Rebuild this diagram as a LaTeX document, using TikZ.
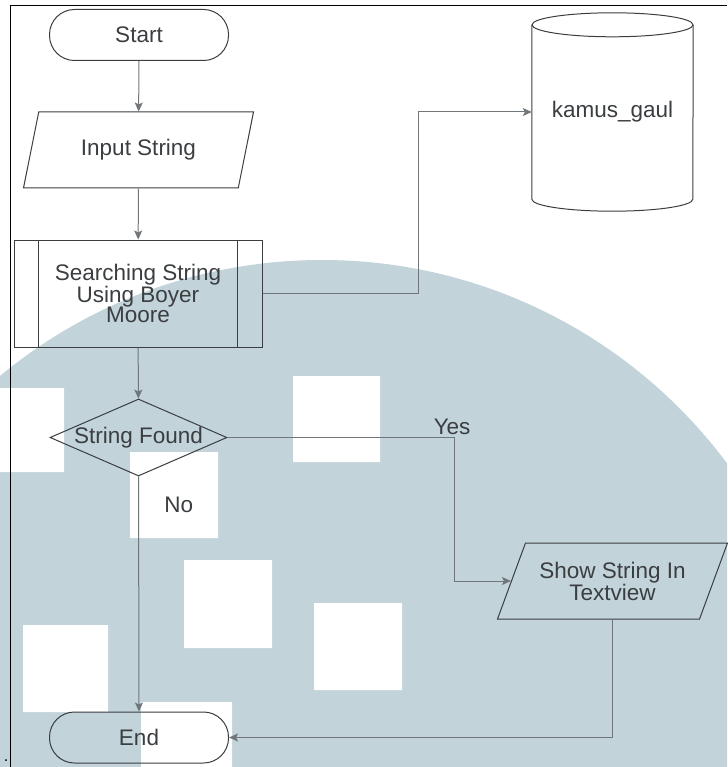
\documentclass[tikz,border=0pt]{standalone}
\usepackage{fontspec}
\setmainfont{Liberation Sans}
\usetikzlibrary{arrows.meta,shapes.geometric}
\definecolor{wmblue}{RGB}{194,211,218}
\definecolor{flowgray}{RGB}{112,118,121}
\definecolor{edgegray}{RGB}{58,62,64}

\begin{document}
\begin{tikzpicture}[x=1pt,y=-1pt,
  every node/.style={font=\fontsize{22.5}{20.5}\selectfont,text=edgegray},
  terminal/.style={draw=edgegray,line width=1pt,rounded corners=25pt,
    minimum width=179pt,minimum height=51pt,inner sep=0pt},
  io/.style={draw=edgegray,line width=1pt,trapezium,trapezium left angle=54,
    trapezium right angle=126,trapezium stretches body,
    minimum width=230pt,minimum height=76pt,inner sep=0pt},
  process/.style={draw=edgegray,line width=1pt,minimum width=248pt,
    minimum height=107pt,inner sep=0pt},
  decision/.style={draw=edgegray,line width=1pt,diamond,minimum width=177pt,
    minimum height=77pt,inner sep=0pt},
  flow/.style={draw=flowgray,line width=1pt,-{Stealth[length=9pt,width=8pt,inset=2pt]}}]
  \useasboundingbox (0,0) rectangle (727,767);
  \begin{scope}
    \clip (0,0) rectangle (727,767);
    \fill[wmblue] (322,765) circle[radius=505];
    \fill[white] (293,376) rectangle (380,462)
                 (130,452) rectangle (218,538)
                 (0,388) rectangle (64,472)
                 (184,560) rectangle (272,648)
                 (314,603) rectangle (402,690)
                 (23,625) rectangle (108,712)
                 (141,702) rectangle (232,767);
  \end{scope}
  \draw[line width=1pt] (727,6) -- (10,6) -- (10,767);
  \node[anchor=base,inner sep=0pt,text=black,font=\fontsize{16}{16}\selectfont] (dot) at (6,761) {.};

  \node[terminal] (start) at (139,35) {Start};
  \node[io] (input) at (138.5,150) {Input String};
  \node[process,align=center] (proc) at (138,293.5) {Searching String\\Using Boyer\\Moore};
  \draw[edgegray,line width=1pt] ([xshift=25pt]proc.north west) -- ([xshift=25pt]proc.south west)
    ([xshift=-25pt]proc.north east) -- ([xshift=-25pt]proc.south east);
  \node[decision,label=center:{String Found}] (found) at (138.5,437.5) {};
  \node[io,align=center] (show) at (612.5,581) {Show String In\\Textview};
  \node[terminal] (end) at (139,737.5) {End};

  \node[minimum width=161pt,minimum height=198pt,inner sep=0pt] (kamus) at (612.5,112) {kamus\_gaul};
  \draw[edgegray,line width=1pt] ([yshift=-12pt]kamus.north) ellipse[x radius=80.5pt,y radius=12pt];
  \draw[edgegray,line width=1pt] ([yshift=-12pt]kamus.north west) -- ([yshift=12pt]kamus.south west)
    arc[start angle=180,end angle=360,x radius=80.5pt,y radius=12pt] -- ([yshift=-12pt]kamus.north east);

  \draw[flow] (start) -- (input);
  \draw[flow] (input) -- (proc);
  \draw[flow] (proc.east) -| ([xshift=-113pt]kamus.west) -- (kamus.west);
  \draw[flow] (proc) -- (found);
  \draw[flow] (found.east) -| node[pos=0.5,above left,inner sep=2pt,xshift=18pt] {Yes}
    ([xshift=-56pt]show.west) -- (show.west);
  \draw[flow] (found) -- node[pos=0.12,right=22pt] {No} (end);
  \draw[flow] (show) |- (end.east);
\end{tikzpicture}
\end{document}
